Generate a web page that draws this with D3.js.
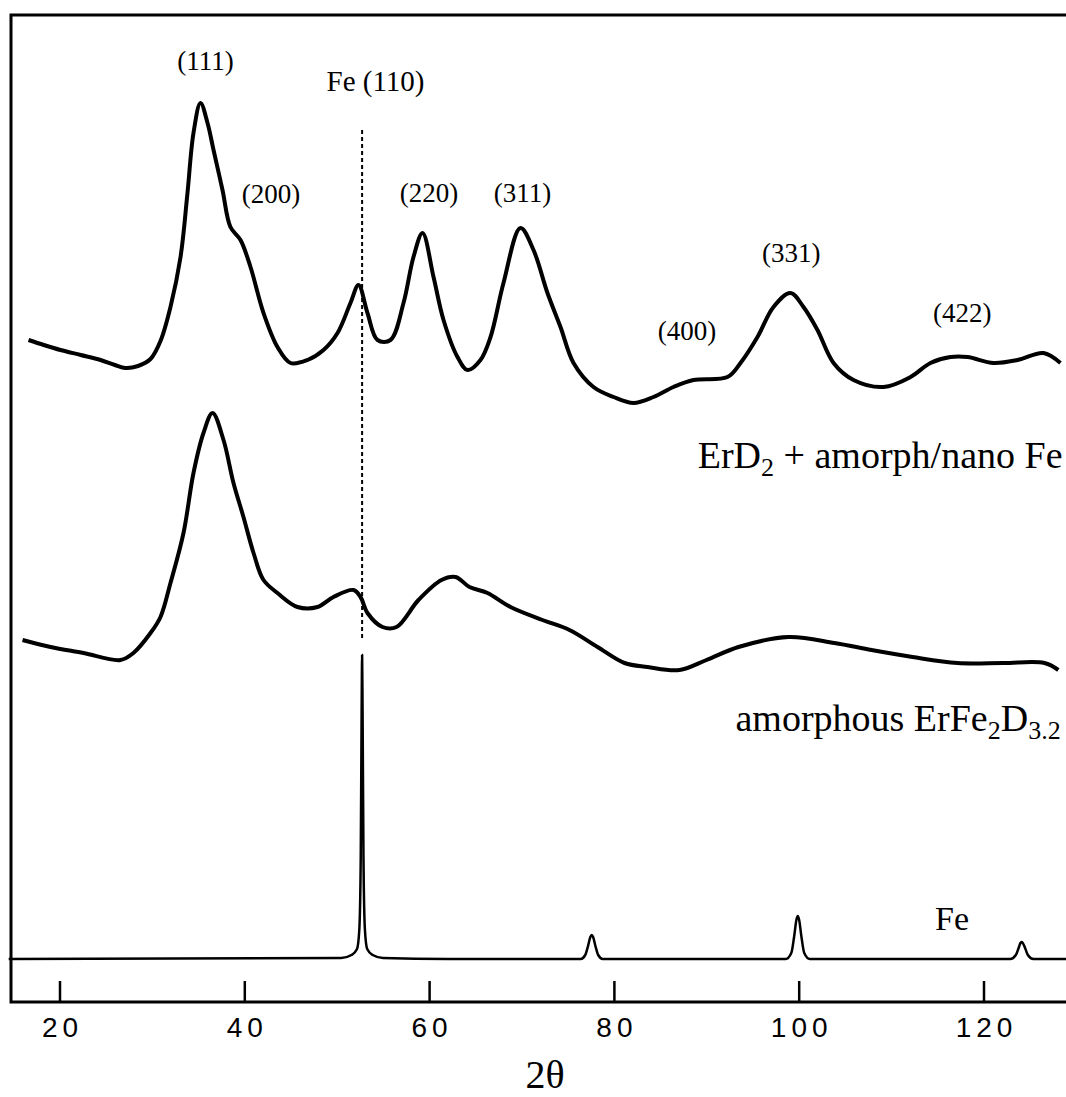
<!DOCTYPE html>
<html>
<head>
<meta charset="utf-8">
<script src="https://cdn.jsdelivr.net/npm/d3@7"></script>
<style>
  html, body { margin: 0; padding: 0; background: #fff; }
  svg { display: block; }
</style>
</head>
<body>
<svg id="chart" width="1066" height="1097"></svg>
<script>
// ---------- DATA (2θ in degrees, intensity in arbitrary units) ----------
const xTicks = [20, 40, 60, 80, 100, 120];

const erd2Pattern = [
  [16.65,619],[18.3,614],[20.1,609],[22.3,604],[24.44,599],[26.0,594],[27.14,591],[28.5,593],[29.85,600],
  [30.93,618],[32.01,652],[33.1,702],[33.85,766],[34.5,826],[35.26,856],[36.02,836],[36.67,809],
  [37.64,769],[38.5,732],[39.59,719],[40.67,692],[42.08,646],[43.59,612],[45.0,596],[46.84,599],
  [48.57,609],[50.09,626],[51.49,656],[52.36,674],[53.33,646],[54.42,619],[55.82,619],[57.23,656],
  [58.31,702],[59.29,726],[60.48,682],[61.56,639],[63.07,602],[64.16,589],[65.56,599],[66.65,622],
  [68.05,676],[69.89,731],[71.3,709],[72.81,666],[74.22,632],[75.63,596],[77.79,572],[79.96,562],
  [82.12,556],[84.29,562],[86.45,572],[88.61,579],[92.29,582],[93.7,596],[95.54,622],[97.27,652],
  [99.11,666],[100.52,652],[102.03,629],[103.77,596],[105.93,579],[109.18,572],[112.1,582],
  [114.26,596],[116.43,602],[118.27,602],[121.08,596],[123.68,599],[126.49,606],[128.33,596]
];

const amorphousPattern = [
  [16.0,319],[19.03,312],[22.6,306],[26.6,299],[28.0,306],[29.85,326],[30.93,342],[32.01,376],
  [33.42,426],[34.5,486],[35.58,526],[36.56,546],[37.75,519],[38.83,476],[39.91,442],[41.0,406],
  [42.08,379],[43.59,366],[45.76,352],[47.92,352],[49.65,362],[51.82,369],[52.58,362],[53.33,346],
  [54.96,332],[56.47,332],[58.85,359],[61.34,379],[62.86,382],[64.37,372],[66.32,366],[68.81,352],
  [72.27,339],[75.19,329],[78.23,312],[81.15,296],[83.64,292],[87.1,289],[90.02,299],[93.48,312],
  [98.9,322],[103.87,316],[107.88,309],[112.32,302],[117.19,296],[122.16,296],[126.6,296],[128.1,289]
];

const fePattern = [
  [14.5,0],[50.5,1],[51.6,4],[52.2,10],[52.45,30],[52.6,100],[52.7,250],[52.75,304],[52.8,250],
  [52.9,100],[53.05,30],[53.3,10],[53.9,4],[55,1],[62,0],
  [76.4,0],[76.9,4],[77.2,13],[77.45,22],[77.6,24],[77.75,22],[78.0,13],[78.3,4],[78.8,0],
  [98.6,0],[99.2,6],[99.5,22],[99.75,39],[99.9,43],[100.05,39],[100.3,22],[100.6,6],[101.2,0],
  [122.9,0],[123.5,4],[123.8,11],[124.0,16],[124.1,17],[124.25,16],[124.5,11],[124.8,4],[125.4,0],
  [130,0]
];

const fe110Position = 52.75;

// reflection labels: text, 2θ, intensity (label baseline)
const hklLabels = [
  ["(111)", 35.8, 889],
  ["(200)", 42.9, 756],
  ["(220)", 60.0, 757],
  ["(311)", 70.1, 757],
  ["(400)", 87.9, 619],
  ["(331)", 99.2, 697],
  ["(422)", 117.7, 637]
];

// ---------- LAYOUT ----------
const svg = d3.select("#chart");
const frameLeft = 11, frameTop = 15, axisY = 1002, frameRight = 1070;

const x = d3.scaleLinear().domain([20, 120]).range([59.5, 983.5]);
const y = d3.scaleLinear().domain([0, 944]).range([959, 15]);

const serif = "'Liberation Serif', 'Times New Roman', serif";
const sans = "'Liberation Sans', Arial, Helvetica, sans-serif";

// frame
svg.append("path")
  .attr("d", `M${frameRight},${frameTop} H${frameLeft} V${axisY} H${frameRight}`)
  .attr("fill", "none").attr("stroke", "#000").attr("stroke-width", 3);

// axis ticks + labels
const axis = d3.axisBottom(x).tickValues(xTicks).tickSize(-21).tickPadding(15)
  .tickFormat(d3.format("d"));
const gAxis = svg.append("g").attr("transform", `translate(0,${axisY})`).call(axis);
gAxis.select(".domain").remove();
gAxis.selectAll(".tick line").attr("stroke", "#000").attr("stroke-width", 2.5);
gAxis.selectAll(".tick text")
  .attr("font-family", sans).attr("font-size", 28).attr("fill", "#000")
  .attr("dx", 2.5)
  .style("letter-spacing", "5px");

// x-axis title
svg.append("text")
  .attr("x", 545).attr("y", 1088)
  .attr("text-anchor", "middle")
  .attr("font-family", serif).attr("font-size", 40)
  .text("2θ");

// lines
const line = d3.line().x(d => x(d[0])).y(d => y(d[1]));

svg.append("path").datum(erd2Pattern)
  .attr("d", line.curve(d3.curveCatmullRom.alpha(0.5)))
  .attr("fill", "none").attr("stroke", "#000").attr("stroke-width", 4)
  .attr("stroke-linejoin", "round");

svg.append("path").datum(amorphousPattern)
  .attr("d", line.curve(d3.curveCatmullRom.alpha(0.5)))
  .attr("fill", "none").attr("stroke", "#000").attr("stroke-width", 4)
  .attr("stroke-linejoin", "round");

svg.append("path").datum(fePattern)
  .attr("d", line.curve(d3.curveMonotoneX))
  .attr("fill", "none").attr("stroke", "#000").attr("stroke-width", 2.5)
  .attr("stroke-linejoin", "round");

// Fe (110) dashed marker
svg.append("line")
  .attr("x1", x(fe110Position)).attr("x2", x(fe110Position))
  .attr("y1", 130).attr("y2", 640)
  .attr("stroke", "#000").attr("stroke-width", 2)
  .attr("stroke-dasharray", "4,3");

// hkl labels
svg.append("g").selectAll("text").data(hklLabels).join("text")
  .attr("x", d => x(d[1])).attr("y", d => y(d[2]))
  .attr("text-anchor", "middle")
  .attr("font-family", serif).attr("font-size", 27)
  .text(d => d[0]);

svg.append("text")
  .attr("x", x(54.2)).attr("y", y(868))
  .attr("text-anchor", "middle")
  .attr("font-family", serif).attr("font-size", 29)
  .text("Fe (110)");

// sample labels
const t1 = svg.append("text")
  .attr("x", x(128.55)).attr("y", y(491))
  .attr("text-anchor", "end")
  .attr("font-family", serif).attr("font-size", 38);
t1.append("tspan").text("ErD");
t1.append("tspan").attr("font-size", 26).attr("dy", 8).text("2");
t1.append("tspan").attr("dy", -8).text(" + amorph/nano Fe");

const t2 = svg.append("text")
  .attr("x", x(128.35)).attr("y", y(228))
  .attr("text-anchor", "end")
  .attr("font-family", serif).attr("font-size", 38);
t2.append("tspan").text("amorphous ErFe");
t2.append("tspan").attr("font-size", 26).attr("dy", 8).text("2");
t2.append("tspan").attr("dy", -8).text("D");
t2.append("tspan").attr("font-size", 26).attr("dy", 8).text("3.2");

svg.append("text")
  .attr("x", x(116.6)).attr("y", y(29))
  .attr("text-anchor", "middle")
  .attr("font-family", serif).attr("font-size", 34)
  .text("Fe");
</script>
</body>
</html>
